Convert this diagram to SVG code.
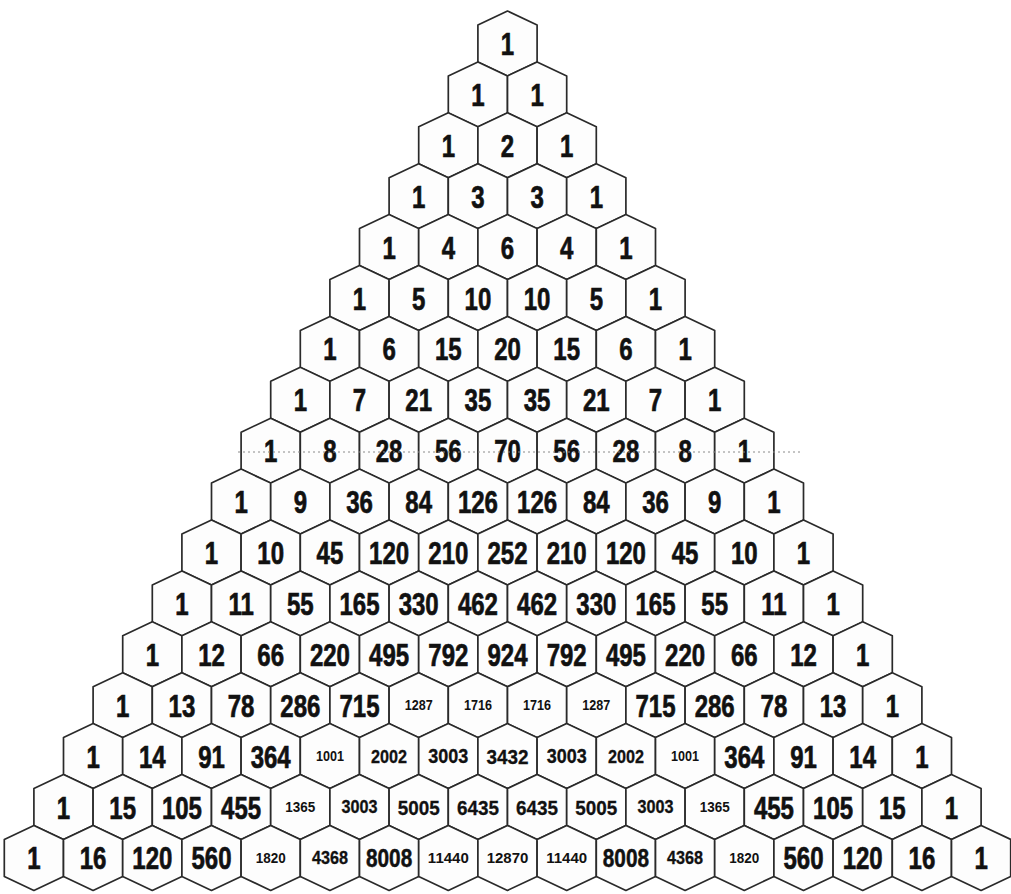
<svg xmlns="http://www.w3.org/2000/svg" xmlns:xlink="http://www.w3.org/1999/xlink" width="1011" height="894" viewBox="0 0 1011 894">
<style>
text{font-family:"Liberation Sans",Arial,sans-serif;font-weight:bold;text-anchor:middle;fill:#111111}
.b{font-size:32px;stroke:#111111;stroke-width:0.7}
.s13{font-size:14px}
.s15{font-size:15px}
.s18{font-size:18px;stroke:#111111;stroke-width:0.3}
.s20{font-size:20px;stroke:#111111;stroke-width:0.3}
.s21{font-size:21px;stroke:#111111;stroke-width:0.3}
.s26{font-size:26px;stroke:#111111;stroke-width:0.5}
.hx{fill:#fdfdfd;stroke:#2a2a2a;stroke-width:1.7;stroke-linejoin:round}
.dot{stroke:#8a8a8a;stroke-width:1;stroke-dasharray:2 3;fill:none}
</style>
<defs>
<path id="h" class="hx" d="M0,-32.5L29.6,-18.5L29.6,18.5L0,32.5L-29.6,18.5L-29.6,-18.5Z"/>
</defs>
<rect width="1011" height="894" fill="#ffffff"/>
<g id="nodes">
<g id="n0-0" transform="translate(507.5,43.5)"><use href="#h"/><text class="b" y="11.5" transform="scale(.75,1)">1</text></g>

<g id="n1-0" transform="translate(477.9,94.4)"><use href="#h"/><text class="b" y="11.5" transform="scale(.75,1)">1</text></g>
<g id="n1-1" transform="translate(537.1,94.4)"><use href="#h"/><text class="b" y="11.5" transform="scale(.75,1)">1</text></g>

<g id="n2-0" transform="translate(448.3,145.3)"><use href="#h"/><text class="b" y="11.5" transform="scale(.75,1)">1</text></g>
<g id="n2-1" transform="translate(507.5,145.3)"><use href="#h"/><text class="b" y="11.5" transform="scale(.75,1)">2</text></g>
<g id="n2-2" transform="translate(566.7,145.3)"><use href="#h"/><text class="b" y="11.5" transform="scale(.75,1)">1</text></g>

<g id="n3-0" transform="translate(418.7,196.2)"><use href="#h"/><text class="b" y="11.5" transform="scale(.75,1)">1</text></g>
<g id="n3-1" transform="translate(477.9,196.2)"><use href="#h"/><text class="b" y="11.5" transform="scale(.75,1)">3</text></g>
<g id="n3-2" transform="translate(537.1,196.2)"><use href="#h"/><text class="b" y="11.5" transform="scale(.75,1)">3</text></g>
<g id="n3-3" transform="translate(596.3,196.2)"><use href="#h"/><text class="b" y="11.5" transform="scale(.75,1)">1</text></g>

<g id="n4-0" transform="translate(389.1,247.1)"><use href="#h"/><text class="b" y="11.5" transform="scale(.75,1)">1</text></g>
<g id="n4-1" transform="translate(448.3,247.1)"><use href="#h"/><text class="b" y="11.5" transform="scale(.75,1)">4</text></g>
<g id="n4-2" transform="translate(507.5,247.1)"><use href="#h"/><text class="b" y="11.5" transform="scale(.75,1)">6</text></g>
<g id="n4-3" transform="translate(566.7,247.1)"><use href="#h"/><text class="b" y="11.5" transform="scale(.75,1)">4</text></g>
<g id="n4-4" transform="translate(625.9,247.1)"><use href="#h"/><text class="b" y="11.5" transform="scale(.75,1)">1</text></g>

<g id="n5-0" transform="translate(359.5,298)"><use href="#h"/><text class="b" y="11.5" transform="scale(.75,1)">1</text></g>
<g id="n5-1" transform="translate(418.7,298)"><use href="#h"/><text class="b" y="11.5" transform="scale(.75,1)">5</text></g>
<g id="n5-2" transform="translate(477.9,298)"><use href="#h"/><text class="b" y="11.5" transform="scale(.75,1)">10</text></g>
<g id="n5-3" transform="translate(537.1,298)"><use href="#h"/><text class="b" y="11.5" transform="scale(.75,1)">10</text></g>
<g id="n5-4" transform="translate(596.3,298)"><use href="#h"/><text class="b" y="11.5" transform="scale(.75,1)">5</text></g>
<g id="n5-5" transform="translate(655.5,298)"><use href="#h"/><text class="b" y="11.5" transform="scale(.75,1)">1</text></g>

<g id="n6-0" transform="translate(329.9,348.9)"><use href="#h"/><text class="b" y="11.5" transform="scale(.75,1)">1</text></g>
<g id="n6-1" transform="translate(389.1,348.9)"><use href="#h"/><text class="b" y="11.5" transform="scale(.75,1)">6</text></g>
<g id="n6-2" transform="translate(448.3,348.9)"><use href="#h"/><text class="b" y="11.5" transform="scale(.75,1)">15</text></g>
<g id="n6-3" transform="translate(507.5,348.9)"><use href="#h"/><text class="b" y="11.5" transform="scale(.75,1)">20</text></g>
<g id="n6-4" transform="translate(566.7,348.9)"><use href="#h"/><text class="b" y="11.5" transform="scale(.75,1)">15</text></g>
<g id="n6-5" transform="translate(625.9,348.9)"><use href="#h"/><text class="b" y="11.5" transform="scale(.75,1)">6</text></g>
<g id="n6-6" transform="translate(685.1,348.9)"><use href="#h"/><text class="b" y="11.5" transform="scale(.75,1)">1</text></g>

<g id="n7-0" transform="translate(300.3,399.8)"><use href="#h"/><text class="b" y="11.5" transform="scale(.75,1)">1</text></g>
<g id="n7-1" transform="translate(359.5,399.8)"><use href="#h"/><text class="b" y="11.5" transform="scale(.75,1)">7</text></g>
<g id="n7-2" transform="translate(418.7,399.8)"><use href="#h"/><text class="b" y="11.5" transform="scale(.75,1)">21</text></g>
<g id="n7-3" transform="translate(477.9,399.8)"><use href="#h"/><text class="b" y="11.5" transform="scale(.75,1)">35</text></g>
<g id="n7-4" transform="translate(537.1,399.8)"><use href="#h"/><text class="b" y="11.5" transform="scale(.75,1)">35</text></g>
<g id="n7-5" transform="translate(596.3,399.8)"><use href="#h"/><text class="b" y="11.5" transform="scale(.75,1)">21</text></g>
<g id="n7-6" transform="translate(655.5,399.8)"><use href="#h"/><text class="b" y="11.5" transform="scale(.75,1)">7</text></g>
<g id="n7-7" transform="translate(714.7,399.8)"><use href="#h"/><text class="b" y="11.5" transform="scale(.75,1)">1</text></g>

<g id="n8-0" transform="translate(270.7,450.7)"><use href="#h"/><text class="b" y="11.5" transform="scale(.75,1)">1</text></g>
<g id="n8-1" transform="translate(329.9,450.7)"><use href="#h"/><text class="b" y="11.5" transform="scale(.75,1)">8</text></g>
<g id="n8-2" transform="translate(389.1,450.7)"><use href="#h"/><text class="b" y="11.5" transform="scale(.75,1)">28</text></g>
<g id="n8-3" transform="translate(448.3,450.7)"><use href="#h"/><text class="b" y="11.5" transform="scale(.75,1)">56</text></g>
<g id="n8-4" transform="translate(507.5,450.7)"><use href="#h"/><text class="b" y="11.5" transform="scale(.75,1)">70</text></g>
<g id="n8-5" transform="translate(566.7,450.7)"><use href="#h"/><text class="b" y="11.5" transform="scale(.75,1)">56</text></g>
<g id="n8-6" transform="translate(625.9,450.7)"><use href="#h"/><text class="b" y="11.5" transform="scale(.75,1)">28</text></g>
<g id="n8-7" transform="translate(685.1,450.7)"><use href="#h"/><text class="b" y="11.5" transform="scale(.75,1)">8</text></g>
<g id="n8-8" transform="translate(744.3,450.7)"><use href="#h"/><text class="b" y="11.5" transform="scale(.75,1)">1</text></g>

<g id="n9-0" transform="translate(241.1,501.6)"><use href="#h"/><text class="b" y="11.5" transform="scale(.75,1)">1</text></g>
<g id="n9-1" transform="translate(300.3,501.6)"><use href="#h"/><text class="b" y="11.5" transform="scale(.75,1)">9</text></g>
<g id="n9-2" transform="translate(359.5,501.6)"><use href="#h"/><text class="b" y="11.5" transform="scale(.75,1)">36</text></g>
<g id="n9-3" transform="translate(418.7,501.6)"><use href="#h"/><text class="b" y="11.5" transform="scale(.75,1)">84</text></g>
<g id="n9-4" transform="translate(477.9,501.6)"><use href="#h"/><text class="b" y="11.5" transform="scale(.75,1)">126</text></g>
<g id="n9-5" transform="translate(537.1,501.6)"><use href="#h"/><text class="b" y="11.5" transform="scale(.75,1)">126</text></g>
<g id="n9-6" transform="translate(596.3,501.6)"><use href="#h"/><text class="b" y="11.5" transform="scale(.75,1)">84</text></g>
<g id="n9-7" transform="translate(655.5,501.6)"><use href="#h"/><text class="b" y="11.5" transform="scale(.75,1)">36</text></g>
<g id="n9-8" transform="translate(714.7,501.6)"><use href="#h"/><text class="b" y="11.5" transform="scale(.75,1)">9</text></g>
<g id="n9-9" transform="translate(773.9,501.6)"><use href="#h"/><text class="b" y="11.5" transform="scale(.75,1)">1</text></g>

<g id="n10-0" transform="translate(211.5,552.5)"><use href="#h"/><text class="b" y="11.5" transform="scale(.75,1)">1</text></g>
<g id="n10-1" transform="translate(270.7,552.5)"><use href="#h"/><text class="b" y="11.5" transform="scale(.75,1)">10</text></g>
<g id="n10-2" transform="translate(329.9,552.5)"><use href="#h"/><text class="b" y="11.5" transform="scale(.75,1)">45</text></g>
<g id="n10-3" transform="translate(389.1,552.5)"><use href="#h"/><text class="b" y="11.5" transform="scale(.75,1)">120</text></g>
<g id="n10-4" transform="translate(448.3,552.5)"><use href="#h"/><text class="b" y="11.5" transform="scale(.75,1)">210</text></g>
<g id="n10-5" transform="translate(507.5,552.5)"><use href="#h"/><text class="b" y="11.5" transform="scale(.75,1)">252</text></g>
<g id="n10-6" transform="translate(566.7,552.5)"><use href="#h"/><text class="b" y="11.5" transform="scale(.75,1)">210</text></g>
<g id="n10-7" transform="translate(625.9,552.5)"><use href="#h"/><text class="b" y="11.5" transform="scale(.75,1)">120</text></g>
<g id="n10-8" transform="translate(685.1,552.5)"><use href="#h"/><text class="b" y="11.5" transform="scale(.75,1)">45</text></g>
<g id="n10-9" transform="translate(744.3,552.5)"><use href="#h"/><text class="b" y="11.5" transform="scale(.75,1)">10</text></g>
<g id="n10-10" transform="translate(803.5,552.5)"><use href="#h"/><text class="b" y="11.5" transform="scale(.75,1)">1</text></g>

<g id="n11-0" transform="translate(181.9,603.4)"><use href="#h"/><text class="b" y="11.5" transform="scale(.75,1)">1</text></g>
<g id="n11-1" transform="translate(241.1,603.4)"><use href="#h"/><text class="b" y="11.5" transform="scale(.75,1)">11</text></g>
<g id="n11-2" transform="translate(300.3,603.4)"><use href="#h"/><text class="b" y="11.5" transform="scale(.75,1)">55</text></g>
<g id="n11-3" transform="translate(359.5,603.4)"><use href="#h"/><text class="b" y="11.5" transform="scale(.75,1)">165</text></g>
<g id="n11-4" transform="translate(418.7,603.4)"><use href="#h"/><text class="b" y="11.5" transform="scale(.75,1)">330</text></g>
<g id="n11-5" transform="translate(477.9,603.4)"><use href="#h"/><text class="b" y="11.5" transform="scale(.75,1)">462</text></g>
<g id="n11-6" transform="translate(537.1,603.4)"><use href="#h"/><text class="b" y="11.5" transform="scale(.75,1)">462</text></g>
<g id="n11-7" transform="translate(596.3,603.4)"><use href="#h"/><text class="b" y="11.5" transform="scale(.75,1)">330</text></g>
<g id="n11-8" transform="translate(655.5,603.4)"><use href="#h"/><text class="b" y="11.5" transform="scale(.75,1)">165</text></g>
<g id="n11-9" transform="translate(714.7,603.4)"><use href="#h"/><text class="b" y="11.5" transform="scale(.75,1)">55</text></g>
<g id="n11-10" transform="translate(773.9,603.4)"><use href="#h"/><text class="b" y="11.5" transform="scale(.75,1)">11</text></g>
<g id="n11-11" transform="translate(833.1,603.4)"><use href="#h"/><text class="b" y="11.5" transform="scale(.75,1)">1</text></g>

<g id="n12-0" transform="translate(152.3,654.3)"><use href="#h"/><text class="b" y="11.5" transform="scale(.75,1)">1</text></g>
<g id="n12-1" transform="translate(211.5,654.3)"><use href="#h"/><text class="b" y="11.5" transform="scale(.75,1)">12</text></g>
<g id="n12-2" transform="translate(270.7,654.3)"><use href="#h"/><text class="b" y="11.5" transform="scale(.75,1)">66</text></g>
<g id="n12-3" transform="translate(329.9,654.3)"><use href="#h"/><text class="b" y="11.5" transform="scale(.75,1)">220</text></g>
<g id="n12-4" transform="translate(389.1,654.3)"><use href="#h"/><text class="b" y="11.5" transform="scale(.75,1)">495</text></g>
<g id="n12-5" transform="translate(448.3,654.3)"><use href="#h"/><text class="b" y="11.5" transform="scale(.75,1)">792</text></g>
<g id="n12-6" transform="translate(507.5,654.3)"><use href="#h"/><text class="b" y="11.5" transform="scale(.75,1)">924</text></g>
<g id="n12-7" transform="translate(566.7,654.3)"><use href="#h"/><text class="b" y="11.5" transform="scale(.75,1)">792</text></g>
<g id="n12-8" transform="translate(625.9,654.3)"><use href="#h"/><text class="b" y="11.5" transform="scale(.75,1)">495</text></g>
<g id="n12-9" transform="translate(685.1,654.3)"><use href="#h"/><text class="b" y="11.5" transform="scale(.75,1)">220</text></g>
<g id="n12-10" transform="translate(744.3,654.3)"><use href="#h"/><text class="b" y="11.5" transform="scale(.75,1)">66</text></g>
<g id="n12-11" transform="translate(803.5,654.3)"><use href="#h"/><text class="b" y="11.5" transform="scale(.75,1)">12</text></g>
<g id="n12-12" transform="translate(862.7,654.3)"><use href="#h"/><text class="b" y="11.5" transform="scale(.75,1)">1</text></g>

<g id="n13-0" transform="translate(122.7,705.2)"><use href="#h"/><text class="b" y="11.5" transform="scale(.75,1)">1</text></g>
<g id="n13-1" transform="translate(181.9,705.2)"><use href="#h"/><text class="b" y="11.5" transform="scale(.75,1)">13</text></g>
<g id="n13-2" transform="translate(241.1,705.2)"><use href="#h"/><text class="b" y="11.5" transform="scale(.75,1)">78</text></g>
<g id="n13-3" transform="translate(300.3,705.2)"><use href="#h"/><text class="b" y="11.5" transform="scale(.75,1)">286</text></g>
<g id="n13-4" transform="translate(359.5,705.2)"><use href="#h"/><text class="b" y="11.5" transform="scale(.75,1)">715</text></g>
<g id="n13-5" transform="translate(418.7,705.2)"><use href="#h"/><text class="s13" y="5" transform="scale(.9,1)">1287</text></g>
<g id="n13-6" transform="translate(477.9,705.2)"><use href="#h"/><text class="s13" y="5" transform="scale(.9,1)">1716</text></g>
<g id="n13-7" transform="translate(537.1,705.2)"><use href="#h"/><text class="s13" y="5" transform="scale(.9,1)">1716</text></g>
<g id="n13-8" transform="translate(596.3,705.2)"><use href="#h"/><text class="s13" y="5" transform="scale(.9,1)">1287</text></g>
<g id="n13-9" transform="translate(655.5,705.2)"><use href="#h"/><text class="b" y="11.5" transform="scale(.75,1)">715</text></g>
<g id="n13-10" transform="translate(714.7,705.2)"><use href="#h"/><text class="b" y="11.5" transform="scale(.75,1)">286</text></g>
<g id="n13-11" transform="translate(773.9,705.2)"><use href="#h"/><text class="b" y="11.5" transform="scale(.75,1)">78</text></g>
<g id="n13-12" transform="translate(833.1,705.2)"><use href="#h"/><text class="b" y="11.5" transform="scale(.75,1)">13</text></g>
<g id="n13-13" transform="translate(892.3,705.2)"><use href="#h"/><text class="b" y="11.5" transform="scale(.75,1)">1</text></g>

<g id="n14-0" transform="translate(93.1,756.1)"><use href="#h"/><text class="b" y="11.5" transform="scale(.75,1)">1</text></g>
<g id="n14-1" transform="translate(152.3,756.1)"><use href="#h"/><text class="b" y="11.5" transform="scale(.75,1)">14</text></g>
<g id="n14-2" transform="translate(211.5,756.1)"><use href="#h"/><text class="b" y="11.5" transform="scale(.75,1)">91</text></g>
<g id="n14-3" transform="translate(270.7,756.1)"><use href="#h"/><text class="b" y="11.5" transform="scale(.75,1)">364</text></g>
<g id="n14-4" transform="translate(329.9,756.1)"><use href="#h"/><text class="s13" y="5" transform="scale(.9,1)">1001</text></g>
<g id="n14-5" transform="translate(389.1,756.1)"><use href="#h"/><text class="s18" y="6.4" transform="scale(.9,1)">2002</text></g>
<g id="n14-6" transform="translate(448.3,756.1)"><use href="#h"/><text class="s20" y="7.2" transform="scale(.9,1)">3003</text></g>
<g id="n14-7" transform="translate(507.5,756.1)"><use href="#h"/><text class="s21" y="7.5" transform="scale(.9,1)">3432</text></g>
<g id="n14-8" transform="translate(566.7,756.1)"><use href="#h"/><text class="s20" y="7.2" transform="scale(.9,1)">3003</text></g>
<g id="n14-9" transform="translate(625.9,756.1)"><use href="#h"/><text class="s18" y="6.4" transform="scale(.9,1)">2002</text></g>
<g id="n14-10" transform="translate(685.1,756.1)"><use href="#h"/><text class="s13" y="5" transform="scale(.9,1)">1001</text></g>
<g id="n14-11" transform="translate(744.3,756.1)"><use href="#h"/><text class="b" y="11.5" transform="scale(.75,1)">364</text></g>
<g id="n14-12" transform="translate(803.5,756.1)"><use href="#h"/><text class="b" y="11.5" transform="scale(.75,1)">91</text></g>
<g id="n14-13" transform="translate(862.7,756.1)"><use href="#h"/><text class="b" y="11.5" transform="scale(.75,1)">14</text></g>
<g id="n14-14" transform="translate(921.9,756.1)"><use href="#h"/><text class="b" y="11.5" transform="scale(.75,1)">1</text></g>

<g id="n15-0" transform="translate(63.5,807)"><use href="#h"/><text class="b" y="11.5" transform="scale(.75,1)">1</text></g>
<g id="n15-1" transform="translate(122.7,807)"><use href="#h"/><text class="b" y="11.5" transform="scale(.75,1)">15</text></g>
<g id="n15-2" transform="translate(181.9,807)"><use href="#h"/><text class="b" y="11.5" transform="scale(.75,1)">105</text></g>
<g id="n15-3" transform="translate(241.1,807)"><use href="#h"/><text class="b" y="11.5" transform="scale(.75,1)">455</text></g>
<g id="n15-4" transform="translate(300.3,807)"><use href="#h"/><text class="s15" y="5.4" transform="scale(.9,1)">1365</text></g>
<g id="n15-5" transform="translate(359.5,807)"><use href="#h"/><text class="s18" y="6.4" transform="scale(.9,1)">3003</text></g>
<g id="n15-6" transform="translate(418.7,807)"><use href="#h"/><text class="s21" y="7.5" transform="scale(.9,1)">5005</text></g>
<g id="n15-7" transform="translate(477.9,807)"><use href="#h"/><text class="s21" y="7.5" transform="scale(.9,1)">6435</text></g>
<g id="n15-8" transform="translate(537.1,807)"><use href="#h"/><text class="s21" y="7.5" transform="scale(.9,1)">6435</text></g>
<g id="n15-9" transform="translate(596.3,807)"><use href="#h"/><text class="s21" y="7.5" transform="scale(.9,1)">5005</text></g>
<g id="n15-10" transform="translate(655.5,807)"><use href="#h"/><text class="s18" y="6.4" transform="scale(.9,1)">3003</text></g>
<g id="n15-11" transform="translate(714.7,807)"><use href="#h"/><text class="s15" y="5.4" transform="scale(.9,1)">1365</text></g>
<g id="n15-12" transform="translate(773.9,807)"><use href="#h"/><text class="b" y="11.5" transform="scale(.75,1)">455</text></g>
<g id="n15-13" transform="translate(833.1,807)"><use href="#h"/><text class="b" y="11.5" transform="scale(.75,1)">105</text></g>
<g id="n15-14" transform="translate(892.3,807)"><use href="#h"/><text class="b" y="11.5" transform="scale(.75,1)">15</text></g>
<g id="n15-15" transform="translate(951.5,807)"><use href="#h"/><text class="b" y="11.5" transform="scale(.75,1)">1</text></g>

<g id="n16-0" transform="translate(33.9,857.9)"><use href="#h"/><text class="b" y="11.5" transform="scale(.75,1)">1</text></g>
<g id="n16-1" transform="translate(93.1,857.9)"><use href="#h"/><text class="b" y="11.5" transform="scale(.75,1)">16</text></g>
<g id="n16-2" transform="translate(152.3,857.9)"><use href="#h"/><text class="b" y="11.5" transform="scale(.75,1)">120</text></g>
<g id="n16-3" transform="translate(211.5,857.9)"><use href="#h"/><text class="b" y="11.5" transform="scale(.75,1)">560</text></g>
<g id="n16-4" transform="translate(270.7,857.9)"><use href="#h"/><text class="s15" y="5.4" transform="scale(.9,1)">1820</text></g>
<g id="n16-5" transform="translate(329.9,857.9)"><use href="#h"/><text class="s18" y="6.4" transform="scale(.9,1)">4368</text></g>
<g id="n16-6" transform="translate(389.1,857.9)"><use href="#h"/><text class="s26" y="9.3" transform="scale(.8,1)">8008</text></g>
<g id="n16-7" transform="translate(448.3,857.9)"><use href="#h"/><text class="s15" y="5.4">11440</text></g>
<g id="n16-8" transform="translate(507.5,857.9)"><use href="#h"/><text class="s15" y="5.4">12870</text></g>
<g id="n16-9" transform="translate(566.7,857.9)"><use href="#h"/><text class="s15" y="5.4">11440</text></g>
<g id="n16-10" transform="translate(625.9,857.9)"><use href="#h"/><text class="s26" y="9.3" transform="scale(.8,1)">8008</text></g>
<g id="n16-11" transform="translate(685.1,857.9)"><use href="#h"/><text class="s18" y="6.4" transform="scale(.9,1)">4368</text></g>
<g id="n16-12" transform="translate(744.3,857.9)"><use href="#h"/><text class="s15" y="5.4" transform="scale(.9,1)">1820</text></g>
<g id="n16-13" transform="translate(803.5,857.9)"><use href="#h"/><text class="b" y="11.5" transform="scale(.75,1)">560</text></g>
<g id="n16-14" transform="translate(862.7,857.9)"><use href="#h"/><text class="b" y="11.5" transform="scale(.75,1)">120</text></g>
<g id="n16-15" transform="translate(921.9,857.9)"><use href="#h"/><text class="b" y="11.5" transform="scale(.75,1)">16</text></g>
<g id="n16-16" transform="translate(981.1,857.9)"><use href="#h"/><text class="b" y="11.5" transform="scale(.75,1)">1</text></g>
</g>
<g id="connectors">
<line class="dot" x1="238" y1="452" x2="800" y2="452"/>
</g>
</svg>
